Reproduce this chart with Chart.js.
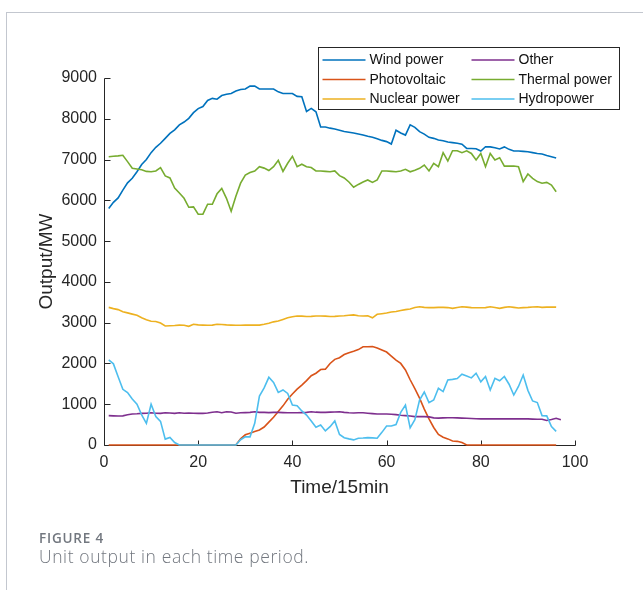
<!DOCTYPE html>
<html>
<head>
<meta charset="utf-8">
<script src="https://cdn.jsdelivr.net/npm/chart.js@4.4.0/dist/chart.umd.min.js"></script>
<style>
  html, body { margin: 0; padding: 0; background: #fff; }
  #wrap { position: relative; width: 643px; height: 590px; overflow: hidden; }
  #frame { position: absolute; left: 6px; top: 12px; width: 700px; height: 700px;
           border-top: 1px solid #c3c7cf; border-left: 1px solid #c3c7cf; }
  canvas { position: absolute; left: 0; top: 0; }
  .cap { position: absolute; left: 39px; font-family: 'Open Sans', sans-serif; color: #72777f; white-space: nowrap; }
  #figno { top: 531.5px; font-size: 13.5px; line-height: 13.5px; font-weight: 600; letter-spacing: 0.8px; }
  #figtxt { top: 548px; font-size: 17.5px; line-height: 17.5px; font-weight: 300; letter-spacing: 0.6px; }
</style>
</head>
<body>
<div id="wrap">
  <div id="frame"></div>
  <canvas id="myChart" width="643" height="590"></canvas>
  <div class="cap" id="figno">FIGURE 4</div>
  <div class="cap" id="figtxt">Unit output in each time period.</div>
</div>
<script>
// time slots (15 min each)
const time = [1, 2, 3, 4, 5, 6, 7, 8, 9, 10, 11, 12, 13, 14, 15, 16, 17, 18, 19, 20,
  21, 22, 23, 24, 25, 26, 27, 28, 29, 30, 31, 32, 33, 34, 35, 36, 37, 38, 39, 40,
  41, 42, 43, 44, 45, 46, 47, 48, 49, 50, 51, 52, 53, 54, 55, 56, 57, 58, 59, 60,
  61, 62, 63, 64, 65, 66, 67, 68, 69, 70, 71, 72, 73, 74, 75, 76, 77, 78, 79, 80,
  81, 82, 83, 84, 85, 86, 87, 88, 89, 90, 91, 92, 93, 94, 95, 96, 97];

const windPower = [5800, 5950, 6060, 6250, 6430, 6540, 6700, 6880, 7000, 7170,
  7300, 7400, 7520, 7640, 7730, 7850, 7920, 8010, 8150, 8250,
  8300, 8450, 8500, 8480, 8570, 8600, 8620, 8680, 8720, 8730,
  8800, 8800, 8730, 8730, 8730, 8730, 8660, 8620, 8620, 8620,
  8550, 8540, 8180, 8255, 8170, 7800, 7800, 7770, 7750, 7720,
  7690, 7670, 7650, 7625, 7600, 7570, 7545, 7510, 7470, 7440,
  7380, 7720, 7650, 7600, 7850, 7790, 7685, 7625, 7545, 7520,
  7480, 7460, 7430, 7415, 7400, 7375, 7275, 7270, 7265, 7210,
  7315, 7310, 7290, 7260, 7310, 7250, 7210, 7210, 7200, 7190,
  7170, 7150, 7135, 7100, 7070, 7040];

const photovoltaic = [0, 0, 0, 0, 0, 0, 0, 0, 0, 0,
  0, 0, 0, 0, 0, 0, 0, 0, 0, 0,
  0, 0, 0, 0, 0, 0, 0, 0, 150, 250,
  290, 330, 370, 440, 560, 680, 820, 960, 1120, 1250,
  1370, 1470, 1580, 1700, 1760, 1850, 1860, 2000, 2100, 2140,
  2220, 2265, 2300, 2340, 2410, 2410, 2415, 2380, 2330, 2280,
  2180, 2080, 2000, 1840, 1600, 1380, 1150, 880, 640, 430,
  260, 190, 150, 100, 90, 60, 0, 0, 0, 0,
  0, 0, 0, 0, 0, 0, 0, 0, 0, 0,
  0, 0, 0, 0, 0, 0];

const nuclearPower = [3375, 3345, 3320, 3270, 3240, 3210, 3180, 3120, 3070, 3035,
  3030, 2990, 2920, 2925, 2930, 2940, 2935, 2910, 2960, 2945,
  2940, 2935, 2940, 2960, 2955, 2945, 2940, 2935, 2935, 2940,
  2940, 2940, 2940, 2960, 2985, 3020, 3040, 3080, 3120, 3145,
  3165, 3160, 3150, 3155, 3165, 3165, 3160, 3150, 3155, 3165,
  3170, 3180, 3190, 3170, 3165, 3170, 3120, 3205, 3220, 3235,
  3260, 3275, 3300, 3320, 3335, 3370, 3390, 3375, 3370, 3370,
  3375, 3375, 3370, 3350, 3370, 3390, 3380, 3370, 3365, 3365,
  3370, 3390, 3370, 3350, 3375, 3390, 3375, 3360, 3370, 3375,
  3385, 3390, 3375, 3380, 3385, 3380];

const other = [720, 715, 710, 715, 740, 760, 765, 775, 780, 790,
  780, 775, 790, 785, 775, 790, 780, 785, 780, 775,
  775, 785, 805, 815, 790, 815, 810, 780, 790, 795,
  800, 815, 800, 800, 795, 800, 800, 795, 790, 790,
  790, 795, 800, 815, 805, 800, 800, 805, 810, 815,
  800, 790, 785, 790, 790, 780, 770, 760, 760, 760,
  755, 745, 730, 720, 710, 695, 695, 695, 690, 665,
  660, 665, 670, 670, 665, 660, 655, 650, 645, 640,
  640, 640, 640, 640, 640, 640, 640, 640, 645, 640,
  635, 630, 630, 600, 625, 655, 620];

const thermalPower = [7070, 7080, 7090, 7105, 6950, 6785, 6770, 6750, 6710, 6700,
  6720, 6800, 6600, 6550, 6300, 6180, 6050, 5830, 5840, 5660,
  5660, 5905, 5905, 6160, 6290, 6050, 5730, 6100, 6420, 6620,
  6680, 6720, 6825, 6790, 6730, 6825, 6980, 6710, 6910, 7080,
  6825, 6885, 6825, 6805, 6720, 6720, 6710, 6700, 6720, 6605,
  6550, 6450, 6320, 6390, 6450, 6500, 6440, 6500, 6720, 6720,
  6710, 6700, 6720, 6760, 6700, 6740, 6785, 6865, 6720, 6905,
  6825, 7170, 6965, 7215, 7215, 7170, 7215, 7150, 6990, 7150,
  6825, 7150, 6990, 7045, 6840, 6840, 6840, 6825, 6460, 6645,
  6540, 6460, 6420, 6440, 6375, 6210];

const hydropower = [2085, 1990, 1675, 1365, 1285, 1130, 1000, 740, 530, 1000,
  700, 580, 145, 185, 60, 0, 0, 0, 0, 0,
  0, 0, 0, 0, 0, 0, 0, 0, 130, 200,
  200, 530, 1200, 1400, 1660, 1535, 1290, 1350, 1265, 980,
  965, 835, 735, 590, 435, 490, 345, 450, 590, 260,
  180, 150, 125, 165, 170, 180, 175, 165, 310, 465,
  465, 500, 800, 980, 420, 620, 1100, 1300, 1040, 1105,
  1390, 1310, 1595, 1610, 1630, 1735, 1690, 1645, 1760, 1550,
  1680, 1350, 1635, 1575, 1680, 1490, 1225, 1435, 1715, 1340,
  1080, 1040, 720, 715, 450, 335];

const xTicks = [0, 20, 40, 60, 80, 100];
const yTicks = [0, 1000, 2000, 3000, 4000, 5000, 6000, 7000, 8000, 9000];

const series = [
  { label: 'Wind power', data: windPower, color: '#0072BD' },
  { label: 'Photovoltaic', data: photovoltaic, color: '#D95319' },
  { label: 'Nuclear power', data: nuclearPower, color: '#EDB120' },
  { label: 'Other', data: other, color: '#7E2F8E' },
  { label: 'Thermal power', data: thermalPower, color: '#77AC30' },
  { label: 'Hydropower', data: hydropower, color: '#4DBEEE' },
];

const axisColor = '#262626';
const fontFamily = '"Liberation Sans", Arial, sans-serif';
const tickFont = { family: fontFamily, size: 16 };
const titleFont = { family: fontFamily, size: 19 };

// axis lines with inward tick marks, drawn under the lines
const insideAxes = {
  id: 'insideAxes',
  beforeDatasetsDraw(chart) {
    const { ctx, scales: { x, y } } = chart;
    const x0 = Math.round(x.getPixelForValue(xTicks[0])) + 0.5;
    const x1 = Math.round(x.getPixelForValue(xTicks[xTicks.length - 1])) + 0.5;
    const y0 = Math.round(y.getPixelForValue(yTicks[0])) + 0.5;
    const y1 = Math.round(y.getPixelForValue(yTicks[yTicks.length - 1])) + 0.5;
    ctx.save();
    ctx.strokeStyle = axisColor;
    ctx.lineWidth = 1;
    ctx.beginPath();
    ctx.moveTo(x0, y1);
    ctx.lineTo(x0, y0);
    ctx.lineTo(x1, y0);
    yTicks.forEach(v => {
      const py = Math.round(y.getPixelForValue(v)) + 0.5;
      ctx.moveTo(x0, py);
      ctx.lineTo(x0 + 6, py);
    });
    xTicks.forEach(v => {
      const px = Math.round(x.getPixelForValue(v)) + 0.5;
      ctx.moveTo(px, y0);
      ctx.lineTo(px, y0 - 5);
    });
    ctx.stroke();
    ctx.restore();
  }
};

// boxed legend, two columns filled top to bottom
const boxLegend = {
  id: 'boxLegend',
  afterDraw(chart) {
    const { ctx } = chart;
    const left = 318.5, top = 47.5, w = 301, h = 62;
    ctx.save();
    ctx.fillStyle = '#fff';
    ctx.fillRect(left, top, w, h);
    ctx.strokeStyle = axisColor;
    ctx.lineWidth = 1;
    ctx.strokeRect(left, top, w, h);
    ctx.font = '14px ' + fontFamily;
    ctx.textBaseline = 'middle';
    chart.data.datasets.forEach((ds, i) => {
      const col = Math.floor(i / 3), row = i % 3;
      const lx = col ? 471.5 : 322.5;
      const ly = 60 + row * 19.5;
      ctx.strokeStyle = ds.borderColor;
      ctx.lineWidth = 1.6;
      ctx.beginPath();
      ctx.moveTo(lx, ly);
      ctx.lineTo(lx + 43, ly);
      ctx.stroke();
      ctx.fillStyle = '#111';
      ctx.fillText(ds.label, lx + 47, ly + 0.5);
    });
    ctx.restore();
  }
};

new Chart(document.getElementById('myChart').getContext('2d'), {
  type: 'line',
  data: {
    labels: time,
    datasets: series.map((s, i) => ({
      label: s.label,
      data: s.data,
      borderColor: s.color,
      backgroundColor: s.color,
      borderWidth: 1.6,
      pointRadius: 0,
      tension: 0,
      fill: false,
      clip: 6,
      order: series.length - i,
    })),
  },
  options: {
    responsive: false,
    animation: false,
    events: [],
    layout: { padding: { left: 0, right: 68, top: 78, bottom: 91 } },
    plugins: {
      legend: { display: false },
      tooltip: { enabled: false },
    },
    scales: {
      x: {
        type: 'linear',
        min: 0,
        max: 100,
        afterBuildTicks: s => { s.ticks = xTicks.map(v => ({ value: v })); },
        ticks: { color: axisColor, font: tickFont, padding: 8, maxRotation: 0, autoSkip: false,
                 callback: v => String(v) },
        grid: { display: false, drawTicks: false },
        border: { display: false },
        title: { display: true, text: 'Time/15min', color: axisColor, font: titleFont, padding: 0 },
        afterFit: s => { s.height = 54; },
      },
      y: {
        min: 0,
        max: 9000,
        afterBuildTicks: s => { s.ticks = yTicks.map(v => ({ value: v })); },
        ticks: { color: axisColor, font: tickFont, padding: 7, callback: v => String(v) },
        grid: { display: false, drawTicks: false },
        border: { display: false },
        title: { display: true, text: 'Output/MW', color: axisColor, font: titleFont, padding: { top: 35, bottom: 0 } },
        afterFit: s => { s.width = 104; },
      },
    },
  },
  plugins: [insideAxes, boxLegend],
});
</script>
</body>
</html>
